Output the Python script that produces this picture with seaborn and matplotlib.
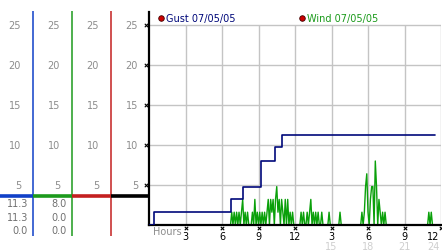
import numpy as np
import pandas as pd
import matplotlib
matplotlib.use("Agg")
import matplotlib.pyplot as plt
import seaborn as sns

# ---------------- data ----------------
gust_hours = [0, 0.4, 6.7, 7.75, 9.2, 10.35, 10.95, 23.5]
gust_mph = [0, 1.6, 3.2, 4.8, 8.0, 9.7, 11.3, 11.3]

wind_step_h = 0.1
wind_mph = [
    0, 0, 0, 0, 0, 0, 0, 0, 0, 0,
    0, 0, 0, 0, 0, 0, 0, 0, 0, 0,
    0, 0, 0, 0, 0, 0, 0, 0, 0, 0,
    0, 0, 0, 0, 0, 0, 0, 0, 0, 0,
    0, 0, 0, 0, 0, 0, 0, 0, 0, 0,
    0, 0, 0, 0, 0, 0, 0, 0, 0, 0,
    0, 0, 0, 0, 0, 0, 0, 0, 1.6, 0,
    1.6, 0, 1.6, 0, 1.6, 0, 1.6, 3.2, 0, 1.6,
    0, 1.6, 0, 0, 0, 1.6, 0, 3.2, 0, 1.6,
    0, 1.6, 0, 1.6, 0, 1.6, 0, 1.6, 3.2, 0,
    3.2, 1.6, 3.2, 0, 3.2, 4.8, 1.6, 3.2, 0, 3.2,
    1.6, 0, 3.2, 0, 3.2, 0, 1.6, 0, 1.6, 0,
    0, 0, 0, 0, 0, 1.6, 0, 1.6, 0, 0,
    1.6, 0, 1.6, 3.2, 0, 1.6, 0, 1.6, 0, 1.6,
    0, 0, 1.6, 0, 0, 0, 0, 0, 1.6, 0,
    0, 0, 0, 0, 0, 0, 0, 1.6, 0, 0,
    0, 0, 0, 0, 0, 0, 0, 0, 0, 0,
    0, 0, 0, 0, 0, 1.6, 0, 1.6, 4.8, 6.4,
    1.6, 0, 3.2, 4.8, 4.8, 0, 8.0, 4.8, 0, 3.2,
    1.6, 0, 1.6, 0, 1.6, 0, 0, 0, 0, 0,
    0, 0, 0, 0, 0, 0, 0, 0, 0, 0,
    0, 0, 0, 0, 0, 0, 0, 0, 0, 0,
    0, 0, 0, 0, 0, 0, 0, 0, 0, 0,
    1.6, 0, 1.6, 0, 0, 0,
]
wind_hours = [round(i * wind_step_h, 2) for i in range(len(wind_mph))]

y_ticks = [5, 10, 15, 20, 25]
x_ticks = [3, 6, 9, 12, 15, 18, 21, 24]
x_labels_top = ["3", "6", "9", "12", "3", "6", "9", "12"]
x_labels_bottom = ["", "", "", "", "15", "18", "21", "24"]
legend_labels = ["Gust 07/05/05", "Wind 07/05/05"]
readout_gust = ["11.3", "11.3", "0.0"]
readout_wind = ["8.0", "0.0", "0.0"]
indicator_level = 3.6

# ---------------- style ----------------
sns.set_theme(style="white")
plt.rcParams["font.family"] = ["DejaVu Sans"]

NAVY = "#00087a"
GREEN = "#0aa00a"
BLUE_L = "#1040c8"
GREEN_L = "#1c9a1c"
RED_L = "#c42020"
GRID = "#c4c4c4"
GRAY_T = "#8c8c8c"

W, H = 442, 253
def rect(l, t, r, b):
    return [l / W, 1 - b / H, (r - l) / W, (b - t) / H]

fig = plt.figure(figsize=(W / 100, H / 100), dpi=100)
fig.patch.set_facecolor("white")

PX = 8.0  # pixels per mph
ax = fig.add_axes(rect(149, 13, 441, 226))
ax.set_xlim(0, 24)
ax.set_ylim(0, (226 - 13) / PX)
ax.set_facecolor("none")

# grid
ax.hlines(y_ticks, 0, 24, colors=GRID, lw=1, zorder=0)
ax.vlines(x_ticks, 0, 25, colors=GRID, lw=1, zorder=0)

gust_df = pd.DataFrame({"hour": gust_hours, "mph": gust_mph})
wind_df = pd.DataFrame({"hour": wind_hours, "mph": wind_mph})

sns.lineplot(data=wind_df, x="hour", y="mph", color=GREEN, lw=1.0, ax=ax,
             estimator=None, zorder=2)
sns.lineplot(data=gust_df, x="hour", y="mph", color=NAVY, lw=1.2, ax=ax,
             drawstyle="steps-post", estimator=None, zorder=3)

for s in ["top", "right"]:
    ax.spines[s].set_visible(False)
for s in ["left", "bottom"]:
    ax.spines[s].set_color("black")
    ax.spines[s].set_linewidth(1.6)
ax.set_xticks([])
ax.set_yticks([])
ax.set_xlabel("")
ax.set_ylabel("")

# x tick markers and labels
ax.scatter(x_ticks, [-0.35] * len(x_ticks), marker="x", s=6, lw=0.8,
           color="black", clip_on=False, zorder=5)
for i, (h, lt, lb) in enumerate(zip(x_ticks, x_labels_top, x_labels_bottom)):
    last = i == len(x_ticks) - 1
    xx = h - 0.65 if last else h
    ax.text(xx, -1.4, lt, ha="center", va="center", fontsize=7,
            color="black", clip_on=False)
    if lb:
        ax.text(xx, -2.6, lb, ha="center", va="center", fontsize=7,
                color="#cfcfcf", clip_on=False)
ax.text(0.33, -0.8, "Hours", ha="left", va="center", fontsize=7,
        color=GRAY_T, clip_on=False)

# legend
leg_x = [1.0, 12.57]
leg_colors = [NAVY, "#1a9a1a"]
ax.scatter(leg_x, [25.9, 25.9], s=16, color="#cc0000", edgecolor="#400000",
           lw=0.6, clip_on=False, zorder=6)
for lx, lab, c in zip(leg_x, legend_labels, leg_colors):
    ax.text(lx + 0.4, 25.9, lab, ha="left", va="center", fontsize=7,
            color=c, clip_on=False)

# ---------------- left panel ----------------
axl = fig.add_axes(rect(0, 12, 149, 240))
axl.set_xlim(0, 149)
axl.set_ylim((226 - 240) / PX, (226 - 12) / PX)
axl.axis("off")

line_x = [33, 72, 111]
axl.vlines(line_x, (226 - 237) / PX, (226 - 12) / PX,
           colors=[BLUE_L, GREEN_L, RED_L], lw=1.1)
axl.hlines([indicator_level] * 4, [0, 33, 72, 111], [33, 72, 111, 149],
           colors=[BLUE_L, GREEN_L, RED_L, "black"], lw=2.6, zorder=3)

for rx in [21, 60, 99, 138]:
    for yt in y_ticks:
        axl.text(rx, yt, str(yt), ha="right", va="center", fontsize=7,
                 color=GRAY_T)
axl.scatter([146] * len(y_ticks), y_ticks, marker="x", s=6, lw=0.8,
            color="black", zorder=5)

row_y = [2.75, 1.05, -0.6]
for ry, g, w in zip(row_y, readout_gust, readout_wind):
    axl.text(28, ry, g, ha="right", va="center", fontsize=7, color="#707070")
    axl.text(67, ry, w, ha="right", va="center", fontsize=7, color="#707070")

fig.savefig("out.png", dpi=100)
